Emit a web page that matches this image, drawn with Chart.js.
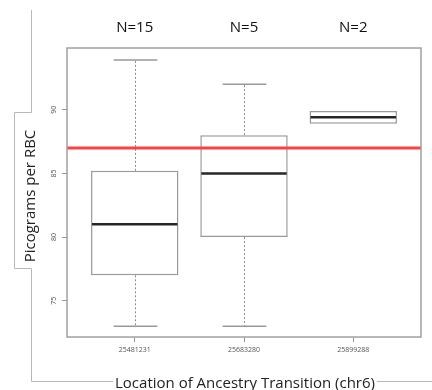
<!DOCTYPE html>
<html>
<head>
<meta charset="utf-8">
<script src="https://cdn.jsdelivr.net/npm/chart.js@4.4.1/dist/chart.umd.min.js"></script>
<style>
  html, body { margin: 0; padding: 0; background: #fff; }
  canvas { display: block; }
</style>
</head>
<body>
<canvas id="myChart" width="432" height="390"></canvas>
<script>
// box plot summaries
var locations = ["25481231", "25683280", "25899288"];
var positions = [1, 2, 3];
var counts = [15, 5, 2];
var mins = [73, 73, 88.9];
var q1s = [77, 80, 88.9];
var medians = [81, 85, 89.4];
var q3s = [85.2, 88, 89.9];
var maxs = [93.9, 92, 89.9];
var refLine = 87;
var yTicks = [75, 80, 85, 90];

var boxData = positions.map(function(p, i) {
  return { x: p, y: [q1s[i], q3s[i]] };
});

var boxExtras = {
  id: "boxExtras",
  afterDatasetsDraw: function(chart) {
    var ctx = chart.ctx;
    var y = chart.scales.y;
    var area = chart.chartArea;
    var meta = chart.getDatasetMeta(0);
    ctx.save();
    meta.data.forEach(function(bar, i) {
      var cx = Math.round(bar.x) + 0.5;
      var w = bar.width;
      // whiskers
      ctx.strokeStyle = "#8a8a8a";
      ctx.lineWidth = 1;
      ctx.setLineDash([2, 2]);
      ctx.beginPath();
      ctx.moveTo(cx, y.getPixelForValue(q3s[i]));
      ctx.lineTo(cx, y.getPixelForValue(maxs[i]));
      ctx.moveTo(cx, y.getPixelForValue(q1s[i]));
      ctx.lineTo(cx, y.getPixelForValue(mins[i]));
      ctx.stroke();
      ctx.setLineDash([]);
      // caps
      ctx.lineWidth = 1.5;
      ctx.strokeStyle = "#999";
      ctx.beginPath();
      if (maxs[i] > q3s[i]) {
        ctx.moveTo(cx - w / 4, y.getPixelForValue(maxs[i]));
        ctx.lineTo(cx + w / 4, y.getPixelForValue(maxs[i]));
      }
      if (mins[i] < q1s[i]) {
        ctx.moveTo(cx - w / 4, y.getPixelForValue(mins[i]));
        ctx.lineTo(cx + w / 4, y.getPixelForValue(mins[i]));
      }
      ctx.stroke();
      // median
      ctx.strokeStyle = "#262626";
      ctx.lineWidth = 2.5;
      ctx.beginPath();
      ctx.moveTo(bar.x - w / 2 + 1, y.getPixelForValue(medians[i]));
      ctx.lineTo(bar.x + w / 2 - 1, y.getPixelForValue(medians[i]));
      ctx.stroke();
    });
    // reference line
    ctx.strokeStyle = "#ff4040";
    ctx.lineWidth = 3;
    ctx.beginPath();
    ctx.moveTo(area.left, y.getPixelForValue(refLine));
    ctx.lineTo(area.right, y.getPixelForValue(refLine));
    ctx.stroke();
    // frame
    ctx.strokeStyle = "#a0a0a0";
    ctx.lineWidth = 1.5;
    ctx.strokeRect(area.left, area.top, area.right - area.left, area.bottom - area.top);
    ctx.restore();
  },
  afterDraw: function(chart) {
    var ctx = chart.ctx;
    var x = chart.scales.x;
    ctx.save();
    // N labels above the boxes
    ctx.fillStyle = "#111";
    ctx.font = "15px 'Open Sans'";
    ctx.textAlign = "center";
    ctx.textBaseline = "middle";
    positions.forEach(function(p, i) {
      ctx.fillText("N=" + counts[i], x.getPixelForValue(p), 28);
    });
    // bracket lines round the axis titles
    ctx.strokeStyle = "#b8b8b8";
    ctx.lineWidth = 1;
    ctx.beginPath();
    ctx.moveTo(31.5, 10);
    ctx.lineTo(31.5, 112.5);
    ctx.lineTo(14.5, 112.5);
    ctx.lineTo(14.5, 268.5);
    ctx.lineTo(31.5, 268.5);
    ctx.lineTo(31.5, 381.5);
    ctx.lineTo(432, 381.5);
    ctx.stroke();
    // x title
    var xt = "Location of Ancestry Transition (chr6)";
    ctx.font = "15px 'Open Sans'";
    var tw = ctx.measureText(xt).width;
    ctx.fillStyle = "#fff";
    ctx.fillRect(245 - tw / 2 - 2, 372, tw + 4, 18);
    ctx.fillStyle = "#222";
    ctx.textBaseline = "alphabetic";
    ctx.fillText(xt, 245, 388);
    // y title
    ctx.translate(31, 196);
    ctx.rotate(-Math.PI / 2);
    ctx.textBaseline = "middle";
    ctx.fillText("Picograms per RBC", 0, 0);
    ctx.restore();
  }
};

new Chart("myChart", {
  type: "bar",
  data: {
    datasets: [{
      data: boxData,
      backgroundColor: "#ffffff",
      borderColor: "#999",
      borderWidth: 1.5,
      borderSkipped: false,
      barPercentage: 0.8,
      categoryPercentage: 1
    }]
  },
  options: {
    responsive: false,
    animation: false,
    devicePixelRatio: 1,
    layout: {
      padding: { left: 42, right: 11, top: 48, bottom: 23 }
    },
    plugins: {
      legend: { display: false },
      tooltip: { enabled: false }
    },
    scales: {
      x: {
        type: "linear",
        min: 0.38,
        max: 3.62,
        offset: false,
        afterBuildTicks: function(scale) {
          scale.ticks = positions.map(function(v) { return { value: v }; });
        },
        afterFit: function(scale) { scale.height = 30; },
        ticks: {
          color: "#555",
          font: { size: 7, family: "'Open Sans'" },
          padding: 4,
          maxRotation: 0,
          callback: function(v) {
            var i = positions.indexOf(v);
            return i >= 0 ? locations[i] : "";
          }
        },
        grid: { offset: false, drawOnChartArea: false, drawTicks: true, tickLength: 5, color: "#999" },
        border: { display: false }
      },
      y: {
        type: "linear",
        min: 72.16,
        max: 94.84,
        afterBuildTicks: function(scale) {
          scale.ticks = yTicks.map(function(v) { return { value: v }; });
        },
        afterFit: function(scale) { scale.width = 25; },
        ticks: {
          color: "#555",
          font: { size: 7, family: "'Open Sans'" },
          padding: 4,
          minRotation: 90,
          maxRotation: 90,
          crossAlign: "center"
        },
        grid: { drawOnChartArea: false, drawTicks: true, tickLength: 5, color: "#999" },
        border: { display: false }
      }
    }
  },
  plugins: [boxExtras]
});
</script>
</body>
</html>
